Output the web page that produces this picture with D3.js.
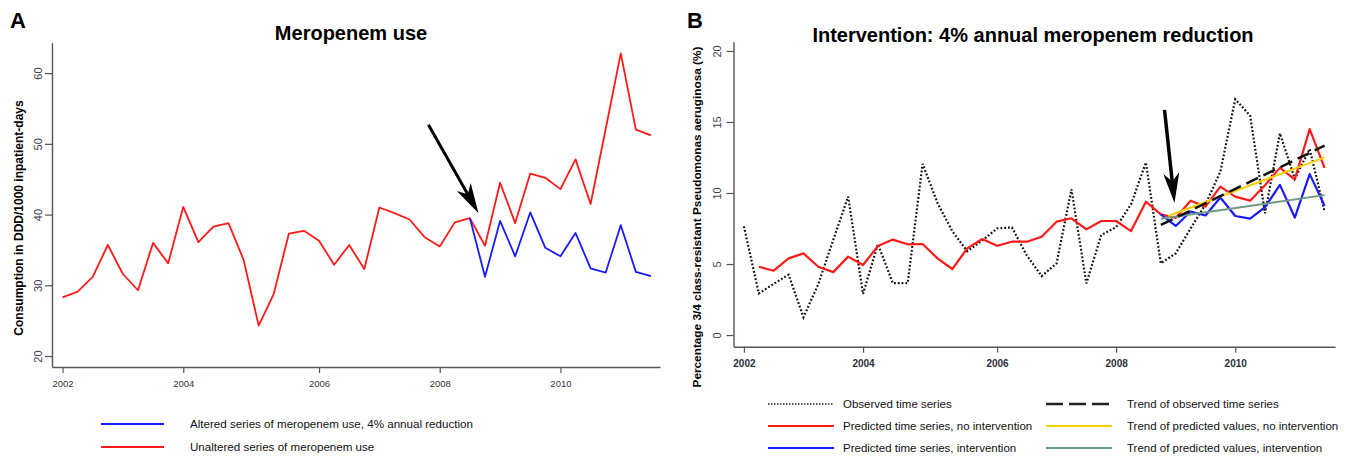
<!DOCTYPE html>
<html><head><meta charset="utf-8">
<script src="https://cdn.jsdelivr.net/npm/d3@7"></script>
<style>
body{margin:0;background:#fff;}
svg{display:block;font-family:"Liberation Sans",Arial,sans-serif;}
</style></head>
<body><svg id="c" width="1349" height="456"></svg>
<script>
// ---- data ----
const xTickIdx = [0, 8, 17, 25, 33];
const xTickLabels = ["2002", "2004", "2006", "2008", "2010"];
const yTicksA = [20, 30, 40, 50, 60];
const yTicksB = [0, 5, 10, 15, 20];

// Panel A: meropenem use (quarterly index 0..39)
const meroUnaltered = [28.3, 29.1, 31.2, 35.7, 31.6, 29.3, 36.0, 33.1, 41.1, 36.1,
  38.3, 38.8, 33.6, 24.3, 28.8, 37.3, 37.7, 36.3, 32.9, 35.7,
  32.3, 41.0, 40.2, 39.3, 36.8, 35.5, 38.9, 39.5, 35.6, 44.5,
  38.8, 45.8, 45.2, 43.6, 47.8, 41.5, 52.1, 62.8, 52.0, 51.2];
const meroAltered = [null, null, null, null, null, null, null, null, null, null,
  null, null, null, null, null, null, null, null, null, null,
  null, null, null, null, null, null, null, 39.5, 31.2, 39.1,
  34.1, 40.3, 35.3, 34.1, 37.4, 32.4, 31.8, 38.5, 31.9, 31.3];

// Panel B: % 3/4 class-resistant P. aeruginosa
const observed = [7.65, 2.93, 3.6, 4.25, 1.25, 3.6, 6.7, 9.75, 2.9, 6.4,
  3.65, 3.65, 12.05, 9.3, 7.3, 5.9, 6.65, 7.5, 7.58, 5.6,
  4.15, 5.05, 10.26, 3.64, 7.04, 7.6, 9.2, 12.15, 5.05, 5.75,
  7.5, 9.2, 11.5, 16.6, 15.45, 8.57, 14.2, 11.0, 13.1, 8.7];
const predNoInt = [null, 4.81, 4.53, 5.4, 5.75, 4.81, 4.43, 5.52, 4.93, 6.27,
  6.72, 6.39, 6.41, 5.4, 4.65, 6.1, 6.76, 6.29, 6.57, 6.57,
  6.92, 7.98, 8.22, 7.44, 8.03, 8.03, 7.32, 9.39, 8.5, 8.25,
  9.46, 9.04, 10.45, 9.74, 9.46, 10.55, 11.77, 10.96, 14.5, 11.77];
const predInt = [null, null, null, null, null, null, null, null, null, null,
  null, null, null, null, null, null, null, null, null, null,
  null, null, null, null, null, null, null, null, 8.5, 7.68,
  8.7, 8.42, 9.68, 8.38, 8.19, 9.0, 10.57, 8.27, 11.33, 9.1];
const trendObsIdx = [28, 39], trendObs = [7.75, 13.33];
const trendNoIntIdx = [28.5, 39], trendNoInt = [8.38, 12.51];
const trendIntIdx = [28, 39], trendInt = [8.18, 9.85];

// arrows [idx, value] tail -> tip
const arrowA = [[24.25, 52.7], [27.57, 40.2]];
const arrowB = [[28.25, 15.85], [28.92, 9.3]];

// ---- drawing ----
const svg = d3.select("#c");
const RED = "#ff1a1a", BLUE = "#1a1aff", YEL = "#f7cf00", GRN = "#6f9a82", AX = "#555";

function drawArrow(g, x, y, pts, w, hl, hw) {
  const [x1, y1] = [x(pts[0][0]), y(pts[0][1])];
  const [x2, y2] = [x(pts[1][0]), y(pts[1][1])];
  const dx = x2 - x1, dy = y2 - y1, L = Math.hypot(dx, dy);
  const ux = dx / L, uy = dy / L, px = -uy, py = ux;
  g.append("line").attr("x1", x1).attr("y1", y1)
    .attr("x2", x2 - ux * hl * 0.7).attr("y2", y2 - uy * hl * 0.7)
    .attr("stroke", "#000").attr("stroke-width", w);
  const bx = x2 - ux * hl, by = y2 - uy * hl;
  const nx = x2 - ux * hl * 0.72, ny = y2 - uy * hl * 0.72;
  g.append("path").attr("d",
    `M${x2},${y2}L${bx + px * hw},${by + py * hw}L${nx},${ny}L${bx - px * hw},${by - py * hw}Z`)
    .attr("fill", "#000");
}

function styleAxis(g) {
  g.selectAll(".domain").attr("stroke", AX).attr("stroke-width", 1.4);
  g.selectAll(".tick line").attr("stroke", AX).attr("stroke-width", 1.2);
}

// ===== Panel A =====
{
  const x = d3.scaleLinear().domain([-0.7, 39.6]).range([52, 660]);
  const y = d3.scaleLinear().domain([18.45, 64.3]).range([367, 42.7]);
  const g = svg.append("g");
  const line = d3.line().defined(d => d != null).x((d, i) => x(i)).y(d => y(d));

  g.append("path").datum(meroUnaltered).attr("d", line)
    .attr("fill", "none").attr("stroke", RED).attr("stroke-width", 1.8).attr("stroke-linejoin", "round");
  g.append("path").datum(meroAltered).attr("d", line)
    .attr("fill", "none").attr("stroke", BLUE).attr("stroke-width", 1.8).attr("stroke-linejoin", "round");

  const ya = g.append("g").attr("transform", "translate(52,0)")
    .call(d3.axisLeft(y).tickValues(yTicksA).tickSize(7).tickSizeOuter(0).tickPadding(4));
  styleAxis(ya);
  ya.selectAll(".tick text").attr("fill", "#3b4050").attr("font-size", 11)
    .attr("x", null).attr("dy", null)
    .attr("transform", "translate(-14,0) rotate(-90)").attr("text-anchor", "middle")
    .attr("dominant-baseline", "central");

  const xa = g.append("g").attr("transform", "translate(0,367)")
    .call(d3.axisBottom(x).tickValues(xTickIdx).tickFormat((d, i) => xTickLabels[i])
      .tickSize(6).tickSizeOuter(0).tickPadding(7));
  styleAxis(xa);
  xa.selectAll(".tick text").attr("fill", "#333").attr("font-size", 9.5);

  drawArrow(g, x, y, arrowA, 3, 30, 8);

  svg.append("text").attr("x", 351).attr("y", 40).attr("text-anchor", "middle")
    .attr("font-size", 20).attr("font-weight", "bold").text("Meropenem use");
  svg.append("text").attr("x", 10).attr("y", 28).attr("font-size", 22).attr("font-weight", "bold").text("A");
  svg.append("text").attr("transform", "translate(22.5,218) rotate(-90)").attr("text-anchor", "middle")
    .attr("font-size", 12).attr("font-weight", "bold").text("Consumption in DDD/1000 inpatient-days");

  // legend A
  const legA = [
    {label: "Altered series of meropenem use, 4% annual reduction", color: BLUE, y: 424},
    {label: "Unaltered series of meropenem use", color: RED, y: 447}
  ];
  legA.forEach(d => {
    svg.append("line").attr("x1", 101).attr("x2", 164).attr("y1", d.y).attr("y2", d.y)
      .attr("stroke", d.color).attr("stroke-width", 2);
    svg.append("text").attr("x", 190).attr("y", d.y + 4).attr("font-size", 11.6).attr("fill", "#111").text(d.label);
  });
}

// ===== Panel B =====
{
  const x = d3.scaleLinear().domain([-0.7, 39.7]).range([733.5, 1335]);
  const y = d3.scaleLinear().domain([-0.82, 20.65]).range([346.7, 41.7]);
  const g = svg.append("g");
  const line = d3.line().defined(d => d != null).x((d, i) => x(i)).y(d => y(d));
  const tline = (idx, vals) => `M${x(idx[0])},${y(vals[0])}L${x(idx[1])},${y(vals[1])}`;

  g.append("path").datum(observed).attr("d", line)
    .attr("fill", "none").attr("stroke", "#111").attr("stroke-width", 2.2).attr("stroke-dasharray", "1.8,2");
  g.append("path").datum(predNoInt).attr("d", line)
    .attr("fill", "none").attr("stroke", RED).attr("stroke-width", 2.2).attr("stroke-linejoin", "round");
  g.append("path").datum(predInt).attr("d", line)
    .attr("fill", "none").attr("stroke", BLUE).attr("stroke-width", 2.2).attr("stroke-linejoin", "round");
  g.append("path").attr("d", tline(trendIntIdx, trendInt))
    .attr("stroke", GRN).attr("stroke-width", 2).attr("fill", "none");
  g.append("path").attr("d", tline(trendNoIntIdx, trendNoInt))
    .attr("stroke", YEL).attr("stroke-width", 2).attr("fill", "none");
  g.append("path").attr("d", tline(trendObsIdx, trendObs))
    .attr("stroke", "#111").attr("stroke-width", 2.5).attr("stroke-dasharray", "13,6").attr("fill", "none");

  const ya = g.append("g").attr("transform", "translate(733.5,0)")
    .call(d3.axisLeft(y).tickValues(yTicksB).tickSize(7).tickSizeOuter(0));
  styleAxis(ya);
  ya.selectAll(".tick text").attr("fill", "#3b4050").attr("font-size", 11)
    .attr("x", null).attr("dy", null)
    .attr("transform", "translate(-16.5,0) rotate(-90)").attr("text-anchor", "middle")
    .attr("dominant-baseline", "central");

  const xa = g.append("g").attr("transform", "translate(0,346.7)")
    .call(d3.axisBottom(x).tickValues(xTickIdx).tickFormat((d, i) => xTickLabels[i])
      .tickSize(6).tickSizeOuter(0).tickPadding(7));
  styleAxis(xa);
  xa.selectAll(".tick text").attr("fill", "#2a2f3a").attr("font-size", 10).attr("font-weight", "bold");

  drawArrow(g, x, y, arrowB, 3.5, 30, 8);

  svg.append("text").attr("x", 1033).attr("y", 42).attr("text-anchor", "middle")
    .attr("font-size", 20).attr("font-weight", "bold").text("Intervention: 4% annual meropenem reduction");
  svg.append("text").attr("x", 687).attr("y", 28).attr("font-size", 22).attr("font-weight", "bold").text("B");
  svg.append("text").attr("transform", "translate(701,217) rotate(-90)").attr("text-anchor", "middle")
    .attr("font-size", 11.8).attr("font-weight", "bold")
    .text("Percentage 3/4 class-resistant Pseudomonas aeruginosa (%)");

  // legend B
  const legB = [
    {label: "Observed time series", color: "#222", dash: "1.5,1.5", w: 1.6, col: 0, y: 404},
    {label: "Predicted time series, no intervention", color: RED, dash: null, w: 2, col: 0, y: 426},
    {label: "Predicted time series, intervention", color: BLUE, dash: null, w: 2, col: 0, y: 448},
    {label: "Trend of observed time series", color: "#222", dash: "17,6", w: 2.5, col: 1, y: 404},
    {label: "Trend of predicted values, no intervention", color: YEL, dash: null, w: 2, col: 1, y: 426},
    {label: "Trend of predicted values, intervention", color: GRN, dash: null, w: 2, col: 1, y: 448}
  ];
  const colX = [[768, 834, 843], [1046, 1112, 1127]];
  legB.forEach(d => {
    const c = colX[d.col];
    svg.append("line").attr("x1", c[0]).attr("x2", c[1]).attr("y1", d.y).attr("y2", d.y)
      .attr("stroke", d.color).attr("stroke-width", d.w).attr("stroke-dasharray", d.dash);
    svg.append("text").attr("x", c[2]).attr("y", d.y + 4).attr("font-size", 11.5).attr("fill", "#111").text(d.label);
  });
}
</script></body></html>
